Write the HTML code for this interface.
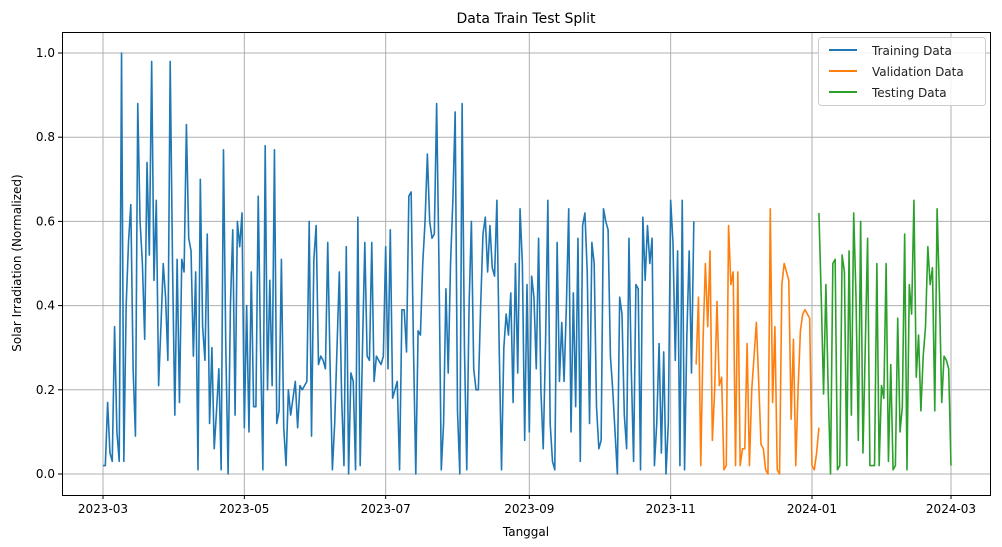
<!DOCTYPE html>
<html><head><meta charset="utf-8">
<style>
html,body{margin:0;padding:0;background:#fff;}
svg{display:block;font-family:"DejaVu Sans","Liberation Sans",sans-serif;}
</style></head>
<body>
<svg id="chart" width="1002" height="547" viewBox="0 0 1002 547">
  <rect x="0" y="0" width="1002" height="547" fill="#fff"/>
  <g id="grid"></g>
  <g id="series"></g>
  <rect x="62.5" y="32.5" width="928" height="463" fill="none" stroke="#000" stroke-width="1"/>
  <g id="ticks"></g>
  <text x="526" y="23" text-anchor="middle" font-size="14" fill="#000">Data Train Test Split</text>
  <text x="526" y="536" text-anchor="middle" font-size="12" fill="#000">Tanggal</text>
  <text transform="translate(21,263) rotate(-90)" text-anchor="middle" font-size="12" fill="#000">Solar Irradiation (Normalized)</text>
  <g>
    <rect x="818.5" y="37.5" width="167" height="68" rx="3" fill="#fff" fill-opacity="0.85" stroke="#ccc"/>
    <g>
      <line x1="829" y1="50" x2="857" y2="50" stroke="#1f77b4" stroke-width="2"/>
      <text x="872" y="55" font-size="12" fill="#222">Training Data</text>
    </g>
    <g>
      <line x1="829" y1="71" x2="857" y2="71" stroke="#ff7f0e" stroke-width="2"/>
      <text x="872" y="76" font-size="12" fill="#222">Validation Data</text>
    </g>
    <g>
      <line x1="829" y1="92" x2="857" y2="92" stroke="#2ca02c" stroke-width="2"/>
      <text x="872" y="97" font-size="12" fill="#222">Testing Data</text>
    </g>
  </g>
</svg>
<script>
const yTicks = [0.0, 0.2, 0.4, 0.6, 0.8, 1.0];
const yTickLabels = ["0.0", "0.2", "0.4", "0.6", "0.8", "1.0"];
const xTickDays = [0, 61, 122, 184, 245, 306, 366];
const xTickLabels = ["2023-03", "2023-05", "2023-07", "2023-09", "2023-11", "2024-01", "2024-03"];
const trainStartDay = 0;
const valStartDay = 256;
const testStartDay = 309;
const trainValues = [0.02,0.02,0.17,0.05,0.03,0.35,0.1,0.03,1.0,0.03,0.4,0.55,0.64,0.25,0.09,0.88,0.6,0.5,0.32,0.74,0.52,0.98,0.46,0.65,0.21,0.35,0.5,0.42,0.27,0.98,0.5,0.14,0.51,0.17,0.51,0.48,0.83,0.56,0.53,0.28,0.48,0.01,0.70,0.35,0.27,0.57,0.12,0.3,0.06,0.15,0.25,0.01,0.77,0.3,0.0,0.4,0.58,0.14,0.6,0.54,0.62,0.11,0.4,0.1,0.48,0.16,0.16,0.66,0.3,0.01,0.78,0.2,0.46,0.21,0.77,0.12,0.15,0.51,0.11,0.02,0.2,0.14,0.18,0.22,0.11,0.21,0.2,0.21,0.22,0.6,0.09,0.51,0.59,0.26,0.28,0.27,0.25,0.55,0.26,0.01,0.12,0.3,0.48,0.18,0.02,0.54,0.0,0.24,0.22,0.01,0.61,0.02,0.3,0.55,0.28,0.27,0.55,0.22,0.28,0.27,0.26,0.28,0.54,0.25,0.58,0.18,0.2,0.22,0.01,0.39,0.39,0.29,0.66,0.67,0.3,0.0,0.34,0.33,0.5,0.6,0.76,0.6,0.56,0.57,0.88,0.5,0.01,0.12,0.44,0.24,0.5,0.65,0.86,0.15,0.0,0.88,0.3,0.01,0.4,0.6,0.25,0.2,0.2,0.4,0.57,0.61,0.48,0.59,0.49,0.47,0.65,0.3,0.01,0.3,0.38,0.33,0.43,0.17,0.5,0.24,0.63,0.5,0.08,0.45,0.1,0.47,0.42,0.25,0.56,0.2,0.06,0.31,0.65,0.12,0.03,0.01,0.55,0.22,0.36,0.22,0.4,0.63,0.1,0.43,0.16,0.56,0.03,0.59,0.62,0.48,0.12,0.55,0.5,0.16,0.06,0.08,0.63,0.6,0.58,0.28,0.2,0.1,0.0,0.42,0.38,0.14,0.06,0.56,0.25,0.03,0.45,0.44,0.01,0.61,0.46,0.59,0.5,0.56,0.02,0.12,0.31,0.05,0.29,0.0,0.12,0.65,0.55,0.27,0.53,0.02,0.65,0.01,0.33,0.53,0.24,0.6];
const valValues = [0.26,0.42,0.02,0.32,0.5,0.35,0.53,0.08,0.2,0.41,0.21,0.23,0.01,0.02,0.59,0.45,0.48,0.02,0.48,0.02,0.06,0.06,0.31,0.02,0.2,0.28,0.36,0.22,0.07,0.06,0.01,0.0,0.63,0.17,0.35,0.01,0.0,0.45,0.5,0.48,0.46,0.13,0.32,0.02,0.2,0.34,0.38,0.39,0.38,0.37,0.02,0.01,0.05,0.11];
const testValues = [0.62,0.42,0.19,0.45,0.2,0.0,0.5,0.51,0.01,0.02,0.52,0.48,0.02,0.53,0.14,0.62,0.42,0.08,0.6,0.05,0.56,0.02,0.02,0.02,0.5,0.02,0.21,0.18,0.5,0.03,0.26,0.01,0.02,0.37,0.16,0.57,0.01,0.45,0.38,0.65,0.23,0.33,0.15,0.35,0.54,0.45,0.49,0.15,0.63,0.43,0.17,0.28,0.27,0.25,0.02];
testValues.splice(20, 0, 0.3);
testValues.splice(35, 0, 0.1);
testValues.splice(45, 0, 0.28);

const NS = "http://www.w3.org/2000/svg";
const xScale = d => 103 + d * (848 / 366);
const yScale = v => 474 - v * 421;

const grid = document.getElementById("grid");
const ticks = document.getElementById("ticks");

yTicks.forEach((v, i) => {
  const y = yScale(v);
  const gl = document.createElementNS(NS, "line");
  gl.setAttribute("x1", 62); gl.setAttribute("x2", 990);
  gl.setAttribute("y1", y); gl.setAttribute("y2", y);
  gl.setAttribute("stroke", "#b0b0b0"); gl.setAttribute("stroke-width", "1");
  
  
  grid.appendChild(gl);
  const tk = document.createElementNS(NS, "line");
  tk.setAttribute("x1", 58); tk.setAttribute("x2", 62);
  tk.setAttribute("y1", y); tk.setAttribute("y2", y);
  tk.setAttribute("stroke", "#000");
  
  
  ticks.appendChild(tk);
  const t = document.createElementNS(NS, "text");
  t.setAttribute("x", 55); t.setAttribute("y", y + 4);
  t.setAttribute("text-anchor", "end"); t.setAttribute("font-size", "12");
  t.textContent = yTickLabels[i];
  
  
  ticks.appendChild(t);
});

xTickDays.forEach((d, i) => {
  const x = xScale(d);
  const gl = document.createElementNS(NS, "line");
  gl.setAttribute("x1", x); gl.setAttribute("x2", x);
  gl.setAttribute("y1", 32); gl.setAttribute("y2", 495);
  gl.setAttribute("stroke", "#b0b0b0"); gl.setAttribute("stroke-width", "1");
  
  
  grid.appendChild(gl);
  const tk = document.createElementNS(NS, "line");
  tk.setAttribute("x1", x); tk.setAttribute("x2", x);
  tk.setAttribute("y1", 495); tk.setAttribute("y2", 499);
  tk.setAttribute("stroke", "#000");
  
  
  ticks.appendChild(tk);
  const t = document.createElementNS(NS, "text");
  t.setAttribute("x", x); t.setAttribute("y", 513);
  t.setAttribute("text-anchor", "middle"); t.setAttribute("font-size", "12");
  t.textContent = xTickLabels[i];
  
  
  ticks.appendChild(t);
});

const seriesLayer = document.getElementById("series");
function drawSeries(values, start, color, name) {
  const pts = values.map((v, i) => xScale(start + i).toFixed(2) + "," + yScale(v).toFixed(2)).join(" ");
  const pl = document.createElementNS(NS, "polyline");
  pl.setAttribute("points", pts);
  pl.setAttribute("fill", "none");
  pl.setAttribute("stroke", color);
  pl.setAttribute("stroke-width", "1.6");
  pl.setAttribute("stroke-linejoin", "round");
  
  
  seriesLayer.appendChild(pl);
}
drawSeries(trainValues, trainStartDay, "#1f77b4", "training-data-line");
drawSeries(valValues, valStartDay, "#ff7f0e", "validation-data-line");
drawSeries(testValues, testStartDay, "#2ca02c", "testing-data-line");
</script>
</body></html>
